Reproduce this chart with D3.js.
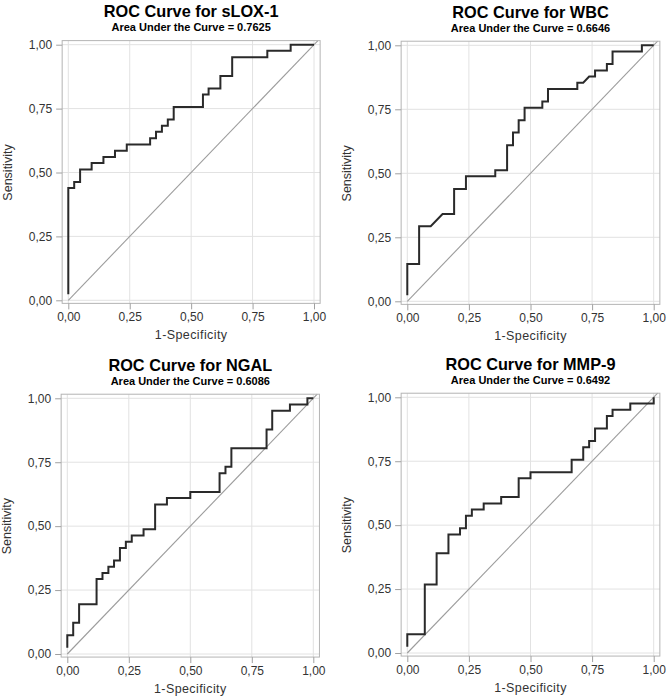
<!DOCTYPE html>
<html><head><meta charset="utf-8">
<script src="https://cdn.jsdelivr.net/npm/d3@7"></script>
<style>
body{margin:0;background:#fff}
svg{display:block}
text{font-family:"Liberation Sans",Arial,sans-serif}
</style>
</head><body>
<svg id="chart" width="669" height="699"></svg>
<script>
// ---- data ----
const markers = ["sLOX-1", "WBC", "NGAL", "MMP-9"];
const aucValues = ["0.7625", "0.6646", "0.6086", "0.6492"];
const tickValues = [0, 0.25, 0.5, 0.75, 1];
const tickLabels = ["0,00", "0,25", "0,50", "0,75", "1,00"];

const fprSLOX1 = [0,0,0.024,0.024,0.048,0.048,0.095,0.095,0.143,0.143,0.190,0.190,0.238,0.238,0.333,0.333,0.357,0.357,0.381,0.381,0.405,0.405,0.429,0.429,0.548,0.548,0.571,0.571,0.619,0.619,0.667,0.667,0.810,0.810,0.905,0.905,1];
const tprSLOX1 = [0.024,0.439,0.439,0.463,0.463,0.512,0.512,0.537,0.537,0.561,0.561,0.585,0.585,0.610,0.610,0.634,0.634,0.659,0.659,0.683,0.683,0.707,0.707,0.756,0.756,0.805,0.805,0.829,0.829,0.878,0.878,0.951,0.951,0.976,0.976,1,1];

const fprWBC = [0,0,0.048,0.048,0.095,0.143,0.190,0.190,0.238,0.238,0.357,0.357,0.405,0.405,0.429,0.429,0.452,0.452,0.476,0.476,0.548,0.548,0.571,0.571,0.690,0.690,0.714,0.738,0.762,0.762,0.810,0.810,0.833,0.833,0.952,0.952,1];
const tprWBC = [0.024,0.146,0.146,0.293,0.293,0.341,0.341,0.439,0.439,0.488,0.488,0.512,0.512,0.610,0.610,0.659,0.659,0.707,0.707,0.756,0.756,0.780,0.780,0.829,0.829,0.854,0.854,0.878,0.878,0.902,0.902,0.927,0.927,0.976,0.976,1,1];

const fprNGAL = [0,0,0.024,0.024,0.048,0.048,0.119,0.119,0.143,0.143,0.167,0.167,0.190,0.190,0.214,0.214,0.238,0.238,0.262,0.262,0.310,0.310,0.357,0.357,0.405,0.405,0.500,0.500,0.619,0.619,0.643,0.643,0.667,0.667,0.810,0.810,0.833,0.833,0.905,0.905,0.976,0.976,1];
const tprNGAL = [0.024,0.073,0.073,0.122,0.122,0.195,0.195,0.293,0.293,0.317,0.317,0.341,0.341,0.366,0.366,0.415,0.415,0.439,0.439,0.463,0.463,0.488,0.488,0.585,0.585,0.610,0.610,0.634,0.634,0.707,0.707,0.732,0.732,0.805,0.805,0.878,0.878,0.951,0.951,0.976,0.976,1,1];

const fprMMP9 = [0,0,0.071,0.071,0.119,0.119,0.167,0.167,0.214,0.214,0.238,0.238,0.262,0.262,0.310,0.310,0.381,0.381,0.452,0.452,0.500,0.500,0.667,0.667,0.714,0.714,0.738,0.738,0.762,0.762,0.810,0.810,0.833,0.833,0.905,0.905,1,1];
const tprMMP9 = [0.024,0.073,0.073,0.268,0.268,0.390,0.390,0.463,0.463,0.488,0.488,0.537,0.537,0.561,0.561,0.585,0.585,0.610,0.610,0.683,0.683,0.707,0.707,0.756,0.756,0.805,0.805,0.829,0.829,0.878,0.878,0.927,0.927,0.951,0.951,0.976,0.976,1];

const seriesFpr = [fprSLOX1, fprWBC, fprNGAL, fprMMP9];
const seriesTpr = [tprSLOX1, tprWBC, tprNGAL, tprMMP9];

// ---- layout (pixel positions of value 0 and 1 on each axis) ----
const layout = [
  {x0: 68.3, x1: 314.0, y0: 300.3, y1: 44.7},
  {x0: 407.3, x1: 653.7, y0: 301.3, y1: 45.3},
  {x0: 67.3, x1: 313.3, y0: 654.0, y1: 398.3},
  {x0: 407.3, x1: 653.7, y0: 653.0, y1: 397.3}
];
const padX = 0.025, padTop = 0.016, padBottom = 0.012;

const svg = d3.select("#chart");

markers.forEach((name, i) => {
  const L = layout[i];
  const x = d3.scaleLinear().domain([0, 1]).range([L.x0, L.x1]);
  const y = d3.scaleLinear().domain([0, 1]).range([L.y0, L.y1]);
  const fl = x(-padX), fr = x(1 + padX), ft = y(1 + padTop), fb = y(-padBottom);
  const g = svg.append("g");

  // gridlines
  g.selectAll(".gx").data(tickValues).join("line")
    .attr("x1", d => x(d)).attr("x2", d => x(d))
    .attr("y1", ft).attr("y2", fb)
    .attr("stroke", "#e2e2e2").attr("stroke-width", 1);
  g.selectAll(".gy").data(tickValues).join("line")
    .attr("x1", fl).attr("x2", fr)
    .attr("y1", d => y(d)).attr("y2", d => y(d))
    .attr("stroke", "#e2e2e2").attr("stroke-width", 1);

  // reference diagonal
  g.append("line")
    .attr("x1", x(0)).attr("y1", y(0))
    .attr("x2", x(1 + padTop)).attr("y2", y(1 + padTop))
    .attr("stroke", "#9c9c9c").attr("stroke-width", 1.1);

  // ROC curve
  const pts = seriesFpr[i].map((f, k) => [f, seriesTpr[i][k]]);
  g.append("path")
    .datum(pts)
    .attr("fill", "none")
    .attr("stroke", "#2a2a2a")
    .attr("stroke-width", 2)
    .attr("stroke-linejoin", "miter")
    .attr("d", d3.line().x(d => x(d[0])).y(d => y(d[1])));

  // frame
  g.append("rect")
    .attr("x", fl).attr("y", ft)
    .attr("width", fr - fl).attr("height", fb - ft)
    .attr("fill", "none").attr("stroke", "#b4b4b4").attr("stroke-width", 1);

  // axes
  const fmt = (d, k) => tickLabels[k];
  const ax = g.append("g").attr("transform", `translate(0,${fb})`)
    .call(d3.axisBottom(x).tickValues(tickValues).tickFormat(fmt).tickSize(6).tickPadding(3));
  const ay = g.append("g").attr("transform", `translate(${fl},0)`)
    .call(d3.axisLeft(y).tickValues(tickValues).tickFormat(fmt).tickSize(6).tickPadding(4));
  [ax, ay].forEach(a => {
    a.select(".domain").remove();
    a.selectAll(".tick line").attr("stroke", "#a0a0a0");
    a.selectAll(".tick text").attr("fill", "#333").style("font-size", "12px")
      .style("font-family", '"Liberation Sans",Arial,sans-serif');
  });

  const cx = (L.x0 + L.x1) / 2, cy = (L.y0 + L.y1) / 2;
  // axis titles
  g.append("text")
    .attr("x", cx).attr("y", fb + 36)
    .attr("text-anchor", "middle").attr("fill", "#333")
    .style("font-size", "12.5px").style("letter-spacing", "0.4px")
    .text("1-Specificity");
  g.append("text")
    .attr("transform", `translate(${L.x0 - 56},${cy}) rotate(-90)`)
    .attr("text-anchor", "middle").attr("fill", "#333")
    .style("font-size", "12.5px")
    .text("Sensitivity");

  // titles
  g.append("text")
    .attr("x", cx).attr("y", L.y1 - 27.5)
    .attr("text-anchor", "middle").attr("fill", "#000")
    .style("font-size", "16.3px").style("font-weight", "bold")
    .text("ROC Curve for " + name);
  g.append("text")
    .attr("x", cx).attr("y", L.y1 - 13.7)
    .attr("text-anchor", "middle").attr("fill", "#000")
    .style("font-size", "11px").style("font-weight", "bold")
    .text("Area Under the Curve = " + aucValues[i]);
});
</script>
</body></html>
